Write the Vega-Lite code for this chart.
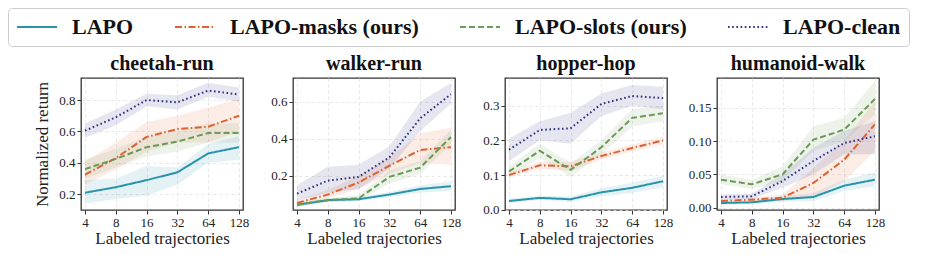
{
  "$schema": "https://vega.github.io/schema/vega-lite/v6.json",
  "background": "white",
  "padding": {"left": 7, "top": 7, "right": 5, "bottom": 5},
  "datasets": {
    "runs": [
      {"env":"cheetah-run","x":4,"method":"LAPO","m":0.21,"lo":0.14,"hi":0.29},
      {"env":"cheetah-run","x":8,"method":"LAPO","m":0.245,"lo":0.17,"hi":0.30},
      {"env":"cheetah-run","x":16,"method":"LAPO","m":0.29,"lo":0.19,"hi":0.38},
      {"env":"cheetah-run","x":32,"method":"LAPO","m":0.34,"lo":0.26,"hi":0.37},
      {"env":"cheetah-run","x":64,"method":"LAPO","m":0.46,"lo":0.40,"hi":0.52},
      {"env":"cheetah-run","x":128,"method":"LAPO","m":0.50,"lo":0.42,"hi":0.57},
      {"env":"cheetah-run","x":4,"method":"LAPO-masks","m":0.325,"lo":0.26,"hi":0.41},
      {"env":"cheetah-run","x":8,"method":"LAPO-masks","m":0.43,"lo":0.36,"hi":0.53},
      {"env":"cheetah-run","x":16,"method":"LAPO-masks","m":0.565,"lo":0.47,"hi":0.66},
      {"env":"cheetah-run","x":32,"method":"LAPO-masks","m":0.615,"lo":0.53,"hi":0.70},
      {"env":"cheetah-run","x":64,"method":"LAPO-masks","m":0.63,"lo":0.53,"hi":0.75},
      {"env":"cheetah-run","x":128,"method":"LAPO-masks","m":0.70,"lo":0.60,"hi":0.81},
      {"env":"cheetah-run","x":4,"method":"LAPO-slots","m":0.36,"lo":0.30,"hi":0.42},
      {"env":"cheetah-run","x":8,"method":"LAPO-slots","m":0.425,"lo":0.37,"hi":0.49},
      {"env":"cheetah-run","x":16,"method":"LAPO-slots","m":0.50,"lo":0.44,"hi":0.57},
      {"env":"cheetah-run","x":32,"method":"LAPO-slots","m":0.535,"lo":0.47,"hi":0.60},
      {"env":"cheetah-run","x":64,"method":"LAPO-slots","m":0.59,"lo":0.53,"hi":0.65},
      {"env":"cheetah-run","x":128,"method":"LAPO-slots","m":0.59,"lo":0.53,"hi":0.65},
      {"env":"cheetah-run","x":4,"method":"LAPO-clean","m":0.605,"lo":0.56,"hi":0.65},
      {"env":"cheetah-run","x":8,"method":"LAPO-clean","m":0.69,"lo":0.64,"hi":0.74},
      {"env":"cheetah-run","x":16,"method":"LAPO-clean","m":0.80,"lo":0.76,"hi":0.84},
      {"env":"cheetah-run","x":32,"method":"LAPO-clean","m":0.785,"lo":0.74,"hi":0.83},
      {"env":"cheetah-run","x":64,"method":"LAPO-clean","m":0.86,"lo":0.82,"hi":0.91},
      {"env":"cheetah-run","x":128,"method":"LAPO-clean","m":0.835,"lo":0.79,"hi":0.88},

      {"env":"walker-run","x":4,"method":"LAPO","m":0.045,"lo":0.035,"hi":0.055},
      {"env":"walker-run","x":8,"method":"LAPO","m":0.07,"lo":0.06,"hi":0.08},
      {"env":"walker-run","x":16,"method":"LAPO","m":0.075,"lo":0.065,"hi":0.085},
      {"env":"walker-run","x":32,"method":"LAPO","m":0.10,"lo":0.085,"hi":0.115},
      {"env":"walker-run","x":64,"method":"LAPO","m":0.13,"lo":0.11,"hi":0.15},
      {"env":"walker-run","x":128,"method":"LAPO","m":0.145,"lo":0.12,"hi":0.17},
      {"env":"walker-run","x":4,"method":"LAPO-masks","m":0.055,"lo":0.045,"hi":0.07},
      {"env":"walker-run","x":8,"method":"LAPO-masks","m":0.10,"lo":0.08,"hi":0.125},
      {"env":"walker-run","x":16,"method":"LAPO-masks","m":0.165,"lo":0.13,"hi":0.20},
      {"env":"walker-run","x":32,"method":"LAPO-masks","m":0.255,"lo":0.21,"hi":0.30},
      {"env":"walker-run","x":64,"method":"LAPO-masks","m":0.34,"lo":0.27,"hi":0.43},
      {"env":"walker-run","x":128,"method":"LAPO-masks","m":0.355,"lo":0.26,"hi":0.46},
      {"env":"walker-run","x":4,"method":"LAPO-slots","m":0.045,"lo":0.035,"hi":0.055},
      {"env":"walker-run","x":8,"method":"LAPO-slots","m":0.07,"lo":0.06,"hi":0.08},
      {"env":"walker-run","x":16,"method":"LAPO-slots","m":0.08,"lo":0.065,"hi":0.095},
      {"env":"walker-run","x":32,"method":"LAPO-slots","m":0.195,"lo":0.16,"hi":0.23},
      {"env":"walker-run","x":64,"method":"LAPO-slots","m":0.245,"lo":0.21,"hi":0.28},
      {"env":"walker-run","x":128,"method":"LAPO-slots","m":0.41,"lo":0.37,"hi":0.45},
      {"env":"walker-run","x":4,"method":"LAPO-clean","m":0.105,"lo":0.07,"hi":0.15},
      {"env":"walker-run","x":8,"method":"LAPO-clean","m":0.175,"lo":0.11,"hi":0.25},
      {"env":"walker-run","x":16,"method":"LAPO-clean","m":0.195,"lo":0.13,"hi":0.26},
      {"env":"walker-run","x":32,"method":"LAPO-clean","m":0.30,"lo":0.24,"hi":0.36},
      {"env":"walker-run","x":64,"method":"LAPO-clean","m":0.51,"lo":0.44,"hi":0.60},
      {"env":"walker-run","x":128,"method":"LAPO-clean","m":0.64,"lo":0.59,"hi":0.70},

      {"env":"hopper-hop","x":4,"method":"LAPO","m":0.025,"lo":0.018,"hi":0.032},
      {"env":"hopper-hop","x":8,"method":"LAPO","m":0.034,"lo":0.028,"hi":0.040},
      {"env":"hopper-hop","x":16,"method":"LAPO","m":0.030,"lo":0.022,"hi":0.038},
      {"env":"hopper-hop","x":32,"method":"LAPO","m":0.050,"lo":0.038,"hi":0.062},
      {"env":"hopper-hop","x":64,"method":"LAPO","m":0.063,"lo":0.048,"hi":0.078},
      {"env":"hopper-hop","x":128,"method":"LAPO","m":0.082,"lo":0.065,"hi":0.098},
      {"env":"hopper-hop","x":4,"method":"LAPO-masks","m":0.100,"lo":0.092,"hi":0.108},
      {"env":"hopper-hop","x":8,"method":"LAPO-masks","m":0.128,"lo":0.118,"hi":0.138},
      {"env":"hopper-hop","x":16,"method":"LAPO-masks","m":0.125,"lo":0.112,"hi":0.138},
      {"env":"hopper-hop","x":32,"method":"LAPO-masks","m":0.155,"lo":0.145,"hi":0.165},
      {"env":"hopper-hop","x":64,"method":"LAPO-masks","m":0.178,"lo":0.168,"hi":0.188},
      {"env":"hopper-hop","x":128,"method":"LAPO-masks","m":0.200,"lo":0.188,"hi":0.212},
      {"env":"hopper-hop","x":4,"method":"LAPO-slots","m":0.110,"lo":0.095,"hi":0.125},
      {"env":"hopper-hop","x":8,"method":"LAPO-slots","m":0.170,"lo":0.150,"hi":0.190},
      {"env":"hopper-hop","x":16,"method":"LAPO-slots","m":0.115,"lo":0.095,"hi":0.135},
      {"env":"hopper-hop","x":32,"method":"LAPO-slots","m":0.180,"lo":0.160,"hi":0.200},
      {"env":"hopper-hop","x":64,"method":"LAPO-slots","m":0.265,"lo":0.240,"hi":0.290},
      {"env":"hopper-hop","x":128,"method":"LAPO-slots","m":0.278,"lo":0.255,"hi":0.300},
      {"env":"hopper-hop","x":4,"method":"LAPO-clean","m":0.173,"lo":0.140,"hi":0.205},
      {"env":"hopper-hop","x":8,"method":"LAPO-clean","m":0.230,"lo":0.200,"hi":0.255},
      {"env":"hopper-hop","x":16,"method":"LAPO-clean","m":0.235,"lo":0.190,"hi":0.280},
      {"env":"hopper-hop","x":32,"method":"LAPO-clean","m":0.305,"lo":0.270,"hi":0.335},
      {"env":"hopper-hop","x":64,"method":"LAPO-clean","m":0.328,"lo":0.300,"hi":0.360},
      {"env":"hopper-hop","x":128,"method":"LAPO-clean","m":0.322,"lo":0.290,"hi":0.355},

      {"env":"humanoid-walk","x":4,"method":"LAPO","m":0.007,"lo":0.004,"hi":0.010},
      {"env":"humanoid-walk","x":8,"method":"LAPO","m":0.008,"lo":0.005,"hi":0.011},
      {"env":"humanoid-walk","x":16,"method":"LAPO","m":0.013,"lo":0.009,"hi":0.017},
      {"env":"humanoid-walk","x":32,"method":"LAPO","m":0.016,"lo":0.010,"hi":0.022},
      {"env":"humanoid-walk","x":64,"method":"LAPO","m":0.033,"lo":0.025,"hi":0.042},
      {"env":"humanoid-walk","x":128,"method":"LAPO","m":0.042,"lo":0.032,"hi":0.053},
      {"env":"humanoid-walk","x":4,"method":"LAPO-masks","m":0.010,"lo":0.007,"hi":0.013},
      {"env":"humanoid-walk","x":8,"method":"LAPO-masks","m":0.012,"lo":0.009,"hi":0.015},
      {"env":"humanoid-walk","x":16,"method":"LAPO-masks","m":0.015,"lo":0.010,"hi":0.020},
      {"env":"humanoid-walk","x":32,"method":"LAPO-masks","m":0.037,"lo":0.015,"hi":0.060},
      {"env":"humanoid-walk","x":64,"method":"LAPO-masks","m":0.072,"lo":0.040,"hi":0.100},
      {"env":"humanoid-walk","x":128,"method":"LAPO-masks","m":0.125,"lo":0.085,"hi":0.160},
      {"env":"humanoid-walk","x":4,"method":"LAPO-slots","m":0.042,"lo":0.035,"hi":0.050},
      {"env":"humanoid-walk","x":8,"method":"LAPO-slots","m":0.035,"lo":0.028,"hi":0.042},
      {"env":"humanoid-walk","x":16,"method":"LAPO-slots","m":0.050,"lo":0.040,"hi":0.062},
      {"env":"humanoid-walk","x":32,"method":"LAPO-slots","m":0.102,"lo":0.085,"hi":0.122},
      {"env":"humanoid-walk","x":64,"method":"LAPO-slots","m":0.117,"lo":0.100,"hi":0.135},
      {"env":"humanoid-walk","x":128,"method":"LAPO-slots","m":0.163,"lo":0.140,"hi":0.190},
      {"env":"humanoid-walk","x":4,"method":"LAPO-clean","m":0.016,"lo":0.012,"hi":0.020},
      {"env":"humanoid-walk","x":8,"method":"LAPO-clean","m":0.017,"lo":0.013,"hi":0.021},
      {"env":"humanoid-walk","x":16,"method":"LAPO-clean","m":0.040,"lo":0.030,"hi":0.050},
      {"env":"humanoid-walk","x":32,"method":"LAPO-clean","m":0.070,"lo":0.050,"hi":0.090},
      {"env":"humanoid-walk","x":64,"method":"LAPO-clean","m":0.097,"lo":0.080,"hi":0.115},
      {"env":"humanoid-walk","x":128,"method":"LAPO-clean","m":0.107,"lo":0.080,"hi":0.130}
    ]
  },
  "data": {"name": "runs"},
  "spacing": 50,
  "bounds": "flush",
  "hconcat": [
    {
      "width": 162, "height": 132,
      "title": "cheetah-run",
      "transform": [{"filter": "datum.env === 'cheetah-run'"}],
      "layer": [
        {"mark": {"type": "area", "fillOpacity": 0.12},
         "encoding": {
           "x": {"field": "x", "type": "ordinal", "scale": {"type": "point", "padding": 0.13}, "axis": {"title": "Labeled trajectories"}},
           "y": {"field": "lo", "type": "quantitative", "scale": {"domain": [0.1, 0.94], "nice": false, "zero": false}, "axis": {"title": "Normalized return", "values": [0.2, 0.4, 0.6, 0.8], "format": ".1f"}},
           "y2": {"field": "hi"},
           "color": {"field": "method", "type": "nominal", "scale": {"domain": ["LAPO", "LAPO-masks", "LAPO-slots", "LAPO-clean"], "range": ["#2a93ab", "#e0612f", "#6b9a57", "#2f2f85"]},
             "legend": {"labelExpr": "datum.label === 'LAPO-masks' || datum.label === 'LAPO-slots' ? datum.label + ' (ours)' : datum.label"}}
         }},
        {"mark": {"type": "line", "strokeWidth": 2},
         "encoding": {
           "x": {"field": "x", "type": "ordinal"},
           "y": {"field": "m", "type": "quantitative"},
           "color": {"field": "method", "type": "nominal"},
           "strokeDash": {"field": "method", "type": "nominal", "scale": {"domain": ["LAPO", "LAPO-masks", "LAPO-slots", "LAPO-clean"], "range": [[1, 0], [7, 2.5, 1.5, 2.5], [6, 3], [1.6, 2.6]]}}
         }}
      ]
    },
    {
      "width": 162, "height": 132,
      "title": "walker-run",
      "transform": [{"filter": "datum.env === 'walker-run'"}],
      "layer": [
        {"mark": {"type": "area", "fillOpacity": 0.12},
         "encoding": {
           "x": {"field": "x", "type": "ordinal", "scale": {"type": "point", "padding": 0.13}, "axis": {"title": "Labeled trajectories"}},
           "y": {"field": "lo", "type": "quantitative", "scale": {"domain": [0.017, 0.727], "nice": false, "zero": false}, "axis": {"title": null, "values": [0.2, 0.4, 0.6], "format": ".1f"}},
           "y2": {"field": "hi"},
           "color": {"field": "method", "type": "nominal"}
         }},
        {"mark": {"type": "line", "strokeWidth": 2},
         "encoding": {
           "x": {"field": "x", "type": "ordinal"},
           "y": {"field": "m", "type": "quantitative"},
           "color": {"field": "method", "type": "nominal"},
           "strokeDash": {"field": "method", "type": "nominal"}
         }}
      ]
    },
    {
      "width": 162, "height": 132,
      "title": "hopper-hop",
      "transform": [{"filter": "datum.env === 'hopper-hop'"}],
      "layer": [
        {"mark": {"type": "area", "fillOpacity": 0.12},
         "encoding": {
           "x": {"field": "x", "type": "ordinal", "scale": {"type": "point", "padding": 0.13}, "axis": {"title": "Labeled trajectories"}},
           "y": {"field": "lo", "type": "quantitative", "scale": {"domain": [-0.001, 0.38], "nice": false, "zero": false}, "axis": {"title": null, "values": [0, 0.1, 0.2, 0.3], "format": ".1f"}},
           "y2": {"field": "hi"},
           "color": {"field": "method", "type": "nominal"}
         }},
        {"mark": {"type": "line", "strokeWidth": 2},
         "encoding": {
           "x": {"field": "x", "type": "ordinal"},
           "y": {"field": "m", "type": "quantitative"},
           "color": {"field": "method", "type": "nominal"},
           "strokeDash": {"field": "method", "type": "nominal"}
         }}
      ]
    },
    {
      "width": 162, "height": 132,
      "title": "humanoid-walk",
      "transform": [{"filter": "datum.env === 'humanoid-walk'"}],
      "layer": [
        {"mark": {"type": "area", "fillOpacity": 0.12},
         "encoding": {
           "x": {"field": "x", "type": "ordinal", "scale": {"type": "point", "padding": 0.13}, "axis": {"title": "Labeled trajectories"}},
           "y": {"field": "lo", "type": "quantitative", "scale": {"domain": [-0.0035, 0.1945], "nice": false, "zero": false}, "axis": {"title": null, "values": [0, 0.05, 0.1, 0.15], "format": ".2f"}},
           "y2": {"field": "hi"},
           "color": {"field": "method", "type": "nominal"}
         }},
        {"mark": {"type": "line", "strokeWidth": 2},
         "encoding": {
           "x": {"field": "x", "type": "ordinal"},
           "y": {"field": "m", "type": "quantitative"},
           "color": {"field": "method", "type": "nominal"},
           "strokeDash": {"field": "method", "type": "nominal"}
         }}
      ]
    }
  ],
  "resolve": {"scale": {"x": "independent", "y": "independent", "color": "shared", "strokeDash": "shared"}},
  "config": {
    "font": "Liberation Serif, DejaVu Serif, serif",
    "view": {"stroke": "#333333", "strokeWidth": 1.3},
    "title": {"font": "Liberation Serif, DejaVu Serif, serif", "fontSize": 20, "fontWeight": "bold", "color": "#111", "offset": 4},
    "axis": {
      "labelFont": "Liberation Serif, DejaVu Serif, serif", "labelFontSize": 13, "labelColor": "#222",
      "titleFont": "Liberation Serif, DejaVu Serif, serif", "titleFontSize": 17, "titleFontWeight": "normal", "titleColor": "#222",
      "tickColor": "#333", "tickSize": 4, "domain": false,
      "grid": true, "gridColor": "#e0e0e0", "gridDash": [3, 3], "gridWidth": 0.8,
      "labelPadding": 2, "titlePadding": 1
    },
    "axisY": {"titlePadding": 7},
    "axisX": {"labelAngle": 0},
    "legend": {
      "orient": "none", "legendX": -73, "legendY": -70, "direction": "horizontal", "title": null,
      "symbolType": "M-1,0H3", "symbolSize": 400, "symbolStrokeWidth": 2, "symbolOpacity": 1,
      "labelFont": "Liberation Serif, DejaVu Serif, serif", "labelFontSize": 22, "labelFontWeight": "bold", "labelColor": "#111",
      "labelOffset": 34, "columnPadding": 37, "labelLimit": 400,
      "strokeColor": "#cccccc", "cornerRadius": 4, "padding": 8
    }
  }
}
